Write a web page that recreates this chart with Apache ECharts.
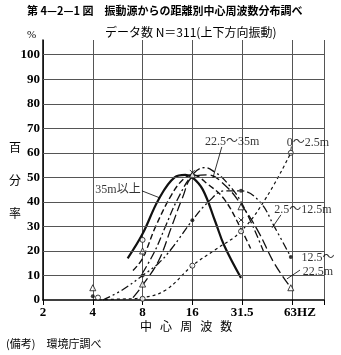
<!DOCTYPE html>
<html><head><meta charset="utf-8">
<script src="https://cdn.jsdelivr.net/npm/echarts@6/dist/echarts.min.js"></script>
<style>html,body{margin:0;padding:0;background:#fff}#c{width:341px;height:355px}</style>
</head><body><div id="c"></div>
<script>
// ---- axis ticks ----
const xTicks = [2, 4, 8, 16, 32, 64];
const xTickLabels = ['2', '4', '8', '16', '31.5', '63HZ'];
const yGrid = [10, 20, 30, 40, 50, 60, 70, 80, 90, 100];
const yTop = 106;

// ---- curves (frequency Hz, percent) ----
const freq35over = [6.5, 8, 10, 12.5, 14.5, 16, 18.5, 22, 25, 31.5];
const val35over  = [17, 27, 41, 50, 51, 50, 45, 32, 22, 9];

const freqDash = [7, 8, 9.6, 12, 14, 16, 20, 25, 31.5, 36];
const valDash  = [12, 17, 30, 43, 49, 51, 47, 41, 29, 21];

const freq22to35 = [8, 9.5, 11, 13, 16, 19, 22, 25, 31.5, 43];
const val22to35  = [11, 20, 30, 41, 51, 54, 52, 49, 40, 20];

const freq12to22 = [7, 8, 10, 12, 14, 16, 20, 25, 31.5, 40, 50, 63];
const val12to22  = [1, 6, 16, 30, 42, 50, 51, 47, 39, 28, 15, 5];

const freq2to12 = [4.6, 6, 8, 10, 12, 16, 20, 25, 31.5, 41, 50, 63];
const val2to12  = [0, 4, 10, 15, 21, 32.5, 40, 44.5, 44.5, 40, 30, 17.5];

const freq0to2 = [4, 5.5, 8, 11, 16, 22, 31.5, 45, 63];
const val0to2  = [0, 0.3, 1, 4, 14, 20.5, 28, 42, 60];

// ---- plotted markers ----
const markCircle   = [[4.3, 1], [8, 0.5], [16, 14], [31.5, 28], [63, 60], [8, 24.5]];
const markDot      = [[4, 1.5], [8, 10], [16, 32.5], [31.5, 44.5], [63, 17.5]];
const markTriangle = [[4, 5], [8, 6.5], [8, 20], [16, 51], [31.5, 38], [63, 5]];
const markCross    = [[16, 52], [31.5, 32.6]];

// ---- annotation labels (text, position in data coords) and leaders ----
const annoNames = ['22.5～35m', '0～2.5m', '35m以上', '2.5～12.5m', '12.5～\n22.5m'];
const annoPos   = [[27.8, 64.5], [80, 64], [5.68, 44.9], [74.6, 36.7], [91.9, 14.3]];
const leaders = [
  [[24.1, 62.4], [21.3, 49.8]],
  [[7.93, 44.5], [10.2, 41.6]],
  [[54.9, 34.7], [48.5, 29.4]],
  [[71.6, 12.2], [59.7, 8.6]],
  [[63.5, 62.6], [63, 61]]
];

const SERIF = "'Liberation Serif','Noto Sans CJK JP',serif";
const CJK = "'Noto Sans CJK JP',sans-serif";
const GRID = '#555';
const zip = (a, b) => a.map((v, i) => [v, b[i]]);

function curve(f, v, type, width) {
  return {
    type: 'line', data: zip(f, v), smooth: 0.4, showSymbol: false, symbol: 'none',
    lineStyle: { color: '#111', width: width, type: type }, z: 3, silent: true
  };
}
function marks(data, symbol, size, filled) {
  return {
    type: 'scatter', data: data, symbol: symbol, symbolSize: size, z: 4, silent: true,
    itemStyle: filled ? { color: '#111' } : { color: '#fff', borderColor: '#111', borderWidth: 1 }
  };
}

const chart = echarts.init(document.getElementById('c'), null, { renderer: 'canvas' });
chart.setOption({
  animation: false,
  grid: { left: 43, right: 17, top: 40, bottom: 55 },
  xAxis: {
    type: 'log', logBase: 2, min: 2, max: 100,
    axisLine: { show: true, lineStyle: { color: '#000', width: 1.5 } },
    splitLine: { show: true, lineStyle: { color: GRID, width: 1 } },
    axisLabel: {
      margin: 6, color: '#000', fontFamily: SERIF, fontWeight: 'bold', fontSize: 13,
      formatter: function (v) {
        const i = xTicks.indexOf(Math.round(v));
        if (i < 0) return '';
        return i === 5 ? '{h|' + xTickLabels[i] + '}' : xTickLabels[i];
      },
      rich: { h: { padding: [0, 0, 0, 16], fontFamily: SERIF, fontWeight: 'bold', fontSize: 13, color: '#000' } }
    }
  },
  yAxis: {
    type: 'value', min: 0, max: yTop, interval: 10,
    axisLine: { show: true, lineStyle: { color: '#000', width: 1.5 } },
    axisTick: { show: false }, splitLine: { show: false },
    axisLabel: {
      margin: 3, color: '#000', fontFamily: SERIF, fontWeight: 'bold', fontSize: 13,
      formatter: v => (v <= 100 && v % 10 === 0) ? String(v) : ''
    }
  },
  graphic: [
    { type: 'text', left: 27, top: 5, style: { text: '第 4—2—1 図　振動源からの距離別中心周波数分布調べ', font: 'bold 11px ' + CJK, fill: '#000' } },
    { type: 'text', left: 105, top: 26, style: { text: 'データ数 N＝311(上下方向振動)', font: '12px ' + CJK, fill: '#000' } },
    { type: 'text', left: 27, top: 30, style: { text: '%', font: '11px ' + SERIF, fill: '#000' } },
    { type: 'text', left: 9, top: 131, style: { text: '百\n分\n率', font: '12px ' + CJK, lineHeight: 33, fill: '#000' } },
    { type: 'text', left: 140, top: 320, style: { text: '中   心   周   波   数', font: '12px ' + CJK, fill: '#000' } },
    { type: 'text', left: 6, top: 338, style: { text: '(備考)　環境庁調べ', font: '11px ' + CJK, fill: '#000' } }
  ],
  series: [
    {
      type: 'line', data: [], silent: true, z: 1,
      markLine: {
        silent: true, symbol: 'none', animation: false, label: { show: false },
        lineStyle: { color: GRID, width: 1, type: 'solid' },
        data: yGrid.map(v => [{ coord: [2, v] }, { coord: [100, v] }])
      }
    },
    curve(freq35over, val35over, 'solid', 2.2),
    curve(freqDash, valDash, [6, 3], 1.4),
    curve(freq22to35, val22to35, [8, 3, 2, 3], 1.3),
    curve(freq12to22, val12to22, [10, 4], 1.3),
    curve(freq2to12, val2to12, [8, 3, 2, 3, 2, 3], 1.3),
    curve(freq0to2, val0to2, [3, 3], 1.2),
    marks(markCircle, 'circle', 5, false),
    marks(markDot, 'circle', 4, true),
    marks(markTriangle, 'triangle', 6, false),
    {
      type: 'scatter', data: markCross, symbol: 'path://M0,0L10,10M10,0L0,10', symbolSize: 5, z: 4, silent: true,
      itemStyle: { color: 'none', borderColor: '#111', borderWidth: 1 }
    },
    {
      type: 'scatter', silent: true, z: 5, symbolSize: 1,
      itemStyle: { color: 'rgba(0,0,0,0)' },
      data: annoNames.map((n, i) => ({ name: n, value: annoPos[i] })),
      label: {
        show: true, position: 'inside', formatter: '{b}', color: '#000',
        fontFamily: SERIF, fontSize: 12, lineHeight: 14, align: 'center'
      },
      markLine: {
        silent: true, symbol: 'none', animation: false, label: { show: false },
        lineStyle: { color: '#000', width: 0.8, type: 'solid' },
        data: leaders.map(l => [{ coord: l[0] }, { coord: l[1] }])
      }
    }
  ]
});
</script>
</body></html>
